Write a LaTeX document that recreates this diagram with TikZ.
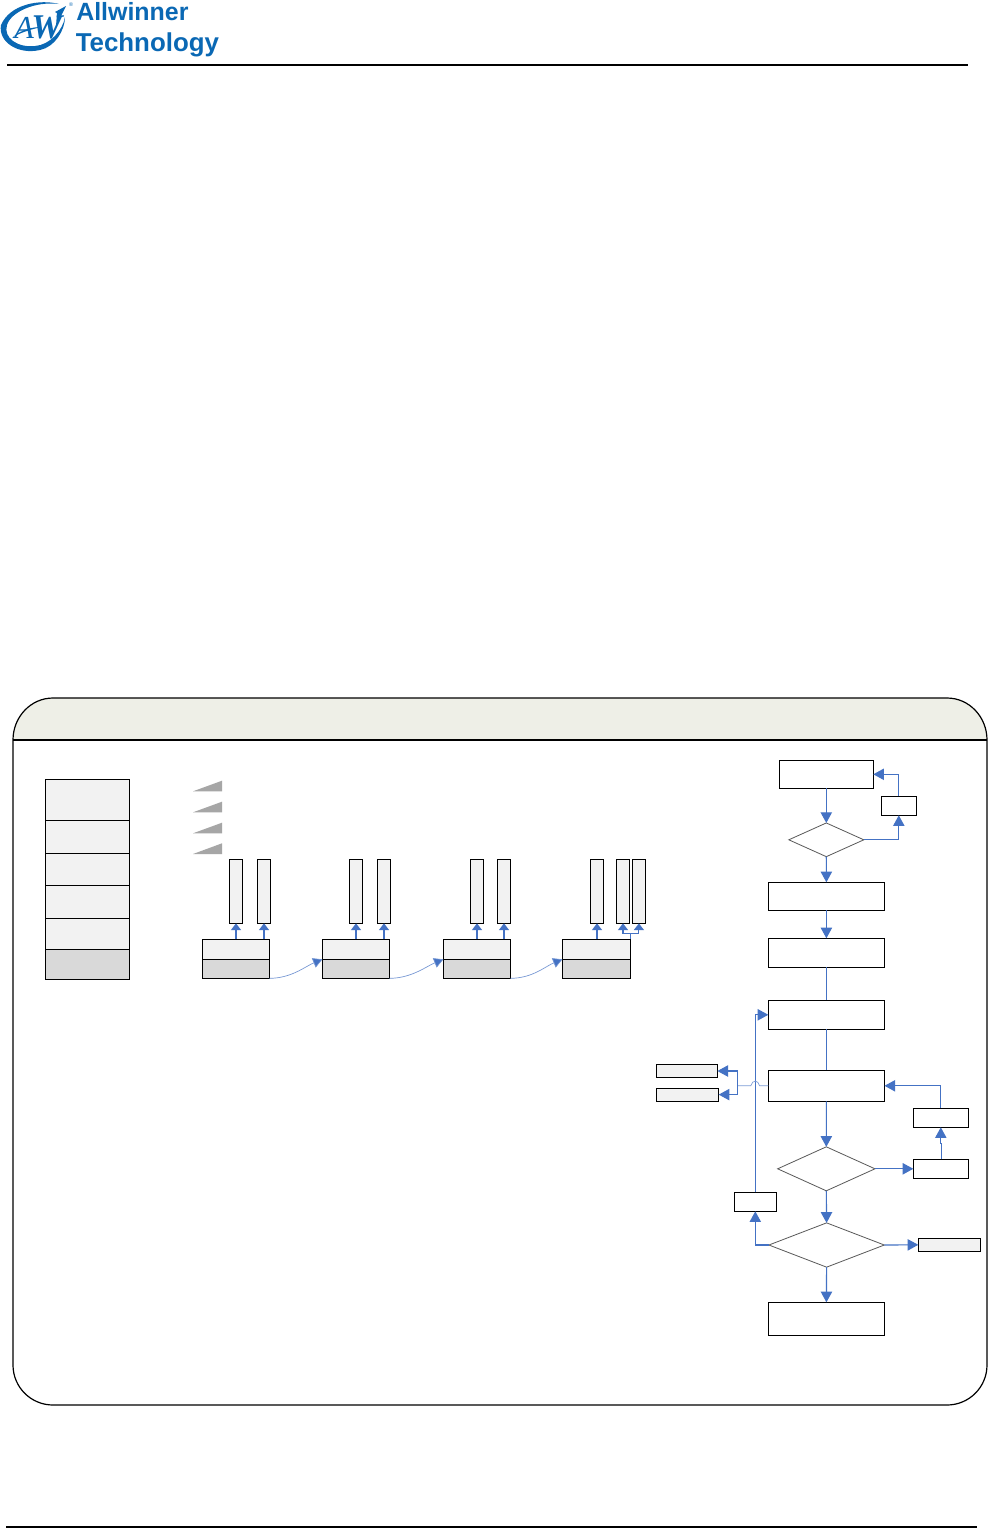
\documentclass[tikz,border=0pt]{standalone}
\usepackage{fontspec}
\setmainfont{Liberation Sans}
\newfontfamily\logoserif{Liberation Serif}
\usetikzlibrary{arrows.meta,shapes.geometric}
\definecolor{flowblue}{HTML}{4472C4}
\definecolor{logoblue}{HTML}{0A68B4}
\definecolor{headfill}{HTML}{EEEFE7}
\definecolor{lightfill}{HTML}{F2F2F2}
\definecolor{darkfill}{HTML}{D9D9D9}
\definecolor{wedgefill}{HTML}{A6A6A6}
\definecolor{diamline}{HTML}{595959}
\tikzset{
  cellbox/.style={draw=black,line width=.85pt,inner sep=0pt,outer sep=0pt,rectangle},
  whitebox/.style={cellbox,fill=white},
  lightbox/.style={cellbox,fill=lightfill},
  darkbox/.style={cellbox,fill=darkfill},
  decide/.style={draw=diamline,line width=.6pt,fill=white,shape=diamond,inner sep=0pt,outer sep=0pt},
  flow/.style={draw=flowblue,line width=.85pt,-{Triangle[length=8pt,width=8.5pt]}},
  flowsmall/.style={draw=flowblue,line width=.85pt,-{Triangle[length=5pt,width=7.5pt]}},
  plainflow/.style={draw=flowblue,line width=.85pt},
  thinflow/.style={draw=flowblue!70,line width=.5pt},
  linkflow/.style={draw=flowblue!75,line width=.5pt,-{Triangle[length=7pt,width=7.5pt,fill=flowblue]}},
  wedge/.style={fill=wedgefill,draw=none},
}
\newcommand{\bx}[6]{%
  \pgfmathsetmacro{\bxcx}{(#3+#5)/2}\pgfmathsetmacro{\bxcy}{(#4+#6)/2}%
  \pgfmathsetmacro{\bxw}{(#5-#3)*0.75}\pgfmathsetmacro{\bxh}{(#6-#4)*0.75}%
  \node[#1,minimum width=\bxw pt,minimum height=\bxh pt] (#2) at (\bxcx,\bxcy) {};}
\newcommand{\dm}[5]{%
  \pgfmathsetmacro{\bxw}{#4*0.75}\pgfmathsetmacro{\bxh}{#5*0.75}\pgfmathsetmacro{\bxa}{#4/#5}%
  \node[decide,aspect=\bxa,minimum width=\bxw pt,minimum height=\bxh pt] (#1) at (#2,#3) {};}
\begin{document}
\begin{tikzpicture}[x=.75pt,y=-.75pt]
\useasboundingbox (0,0) rectangle (988,1528);
\fill[white] (0,0) rectangle (988,1528);
% ---------- logo
\fill[logoblue] (59,4) .. controls (40,-1) and (10,4) .. (1,25)
  .. controls (-2,42) and (18,55) .. (40,50)
  .. controls (55,47) and (65,30) .. (65,17)
  .. controls (63,30) and (50,45) .. (35,46)
  .. controls (18,48) and (3,38) .. (7,25)
  .. controls (11,12) and (35,1) .. (59,4) -- cycle;
\node[anchor=base west,inner sep=0pt,text=logoblue,font=\logoserif\itshape\fontsize{24pt}{24pt}\selectfont] (logoa) at (14,38) {A};
\node[anchor=base west,inner sep=0pt,text=logoblue,font=\logoserif\bfseries\itshape\fontsize{26pt}{26pt}\selectfont] (logow) at (31,38) {W};
\fill[logoblue] (56,26) -- (66,6) -- (55,12) -- (57,13) -- cycle;
\fill[logoblue] (13,37) .. controls (22,29) and (33,27) .. (42,27) .. controls (32,29) and (22,32) .. (13,37) -- cycle;
\node[anchor=center,inner sep=0pt,text=logoblue,font=\fontsize{4pt}{4pt}\selectfont] (logor) at (71,5) {®};
\node[anchor=base west,inner sep=0pt,text=logoblue,font=\bfseries\fontsize{18.7pt}{18.7pt}\selectfont] (logo1) at (76,20.7) {Allwinner};
\node[anchor=base west,inner sep=0pt,text=logoblue,font=\bfseries\fontsize{19.4pt}{19.4pt}\selectfont] (logo2) at (75.5,51.7) {Technology};
\draw[line width=.8pt] (7,65) -- (968,65);
\draw[line width=.8pt] (6,1527) -- (977,1527);
% ---------- container
\fill[headfill] (13,740) arc[start angle=180,end angle=90,x radius=40,y radius=-42] -- (947,698)
   arc[start angle=90,end angle=0,x radius=40,y radius=-42] -- cycle;
\draw[line width=.9pt] (53,698) -- (947,698) arc[start angle=90,end angle=0,x radius=40,y radius=-42]
   -- (987,1365) arc[start angle=0,end angle=-90,x radius=40,y radius=-40]
   -- (53,1405) arc[start angle=-90,end angle=-180,x radius=40,y radius=-40]
   -- (13,740) arc[start angle=180,end angle=90,x radius=40,y radius=-42];
\draw[line width=.9pt] (13,740) -- (987,740);
% ---------- stack
\bx{lightbox}{s1}{45.5}{779.3}{129.5}{820.3}
\bx{lightbox}{s2}{45.5}{820.3}{129.5}{853.3}
\bx{lightbox}{s3}{45.5}{853.3}{129.5}{885.3}
\bx{lightbox}{s4}{45.5}{885.3}{129.5}{918.3}
\bx{lightbox}{s5}{45.5}{918.3}{129.5}{949.3}
\bx{darkbox}{s6}{45.5}{949.3}{129.5}{979.3}
% ---------- wedges
\fill[wedge] (222,780.7) -- (222,791.3) -- (193,791.3) -- cycle;
\fill[wedge] (222,801.7) -- (222,812.3) -- (193,812.3) -- cycle;
\fill[wedge] (222,822.7) -- (222,833.3) -- (193,833.3) -- cycle;
\fill[wedge] (222,843.3) -- (222,854) -- (193,854) -- cycle;
% ---------- bars
\bx{lightbox}{b1}{229.4}{859.3}{242.6}{923.4}
\bx{lightbox}{b2}{257.4}{859.3}{270.6}{923.4}
\bx{lightbox}{b3}{349.4}{859.3}{362.6}{923.4}
\bx{lightbox}{b4}{377.4}{859.3}{390.6}{923.4}
\bx{lightbox}{b5}{470.4}{859.3}{483.6}{923.4}
\bx{lightbox}{b6}{497.4}{859.3}{510.6}{923.4}
\bx{lightbox}{b7}{590.4}{859.3}{603.6}{923.4}
\bx{lightbox}{b8}{616.4}{859.3}{629.6}{923.4}
\bx{lightbox}{b9}{632.4}{859.3}{645.4}{923.4}
% ---------- two-part boxes
\bx{lightbox}{t1}{202.4}{939.3}{269.4}{959.3}
\bx{darkbox}{g1}{202.4}{959.3}{269.4}{978.3}
\bx{lightbox}{t2}{322.4}{939.3}{389.4}{959.3}
\bx{darkbox}{g2}{322.4}{959.3}{389.4}{978.3}
\bx{lightbox}{t3}{443.4}{939.3}{510.4}{959.3}
\bx{darkbox}{g3}{443.4}{959.3}{510.4}{978.3}
\bx{lightbox}{t4}{562.4}{939.3}{630.4}{959.3}
\bx{darkbox}{g4}{562.4}{959.3}{630.4}{978.3}
\draw[flowsmall] (b1.south |- t1.north) -- (b1.south);
\draw[flowsmall] (b2.south |- t1.north) -- (b2.south);
\draw[flowsmall] (b3.south |- t2.north) -- (b3.south);
\draw[flowsmall] (b4.south |- t2.north) -- (b4.south);
\draw[flowsmall] (b5.south |- t3.north) -- (b5.south);
\draw[flowsmall] (b6.south |- t3.north) -- (b6.south);
\draw[flowsmall] (b7.south |- t4.north) -- (b7.south);
\coordinate (fork) at (630.4,933.7);
\draw[plainflow] (t4.north east) -- (fork);
\draw[flowsmall] (fork) -| (b8.south);
\draw[flowsmall] (fork) -| (b9.south);
\draw[linkflow] (g1.south east) .. controls +(22,0) and +(-17,7) .. (t2.south west);
\draw[linkflow] (g2.south east) .. controls +(22,0) and +(-17,7) .. (t3.south west);
\draw[linkflow] (g3.south east) .. controls +(22,0) and +(-17,7) .. (t4.south west);
% ---------- flowchart
\bx{whitebox}{fa}{779.3}{760.3}{873.3}{788.3}
\bx{whitebox}{fs}{881.3}{796.3}{916.3}{815.3}
\dm{d1}{826.3}{839.8}{75}{33.7}
\bx{whitebox}{fb}{768.3}{882.3}{884.5}{910.3}
\bx{whitebox}{fc}{768.3}{938.3}{884.5}{967.3}
\bx{whitebox}{fd}{768.3}{1000.3}{884.5}{1029.3}
\bx{whitebox}{fe}{768.3}{1070.3}{884.5}{1101.3}
\bx{lightbox}{l1}{656.3}{1064.3}{717.4}{1077.3}
\bx{lightbox}{l2}{656.3}{1088.3}{718.7}{1101.3}
\dm{d2}{826.3}{1168.8}{97.3}{44}
\dm{d3}{826.6}{1245}{115.4}{44.3}
\bx{whitebox}{ff}{768.3}{1302.3}{884.5}{1335.3}
\bx{whitebox}{r1}{913.3}{1108.3}{968.3}{1127.3}
\bx{whitebox}{r2}{913.3}{1159.3}{968.3}{1178.3}
\bx{whitebox}{lg}{734.3}{1192.3}{776.3}{1211.3}
\bx{lightbox}{rg}{918.3}{1238.3}{980.7}{1251.3}
\draw[flow] (fa.south) -- (d1.north);
\draw[flow] (d1.south) -- (fb.north);
\draw[flow] (fb.south) -- (fc.north);
\draw[plainflow] (fc.south) -- (fd.north);
\draw[plainflow] (fd.south) -- (fe.north);
\draw[flow] (d1.east) -| (fs.south);
\draw[flow] (fs.north) |- (fa.east);
\draw[flow] (fe.south) -- (d2.north);
\draw[flow] (d2.south) -- (d3.north);
\draw[flow] (d3.south) -- (ff.north);
\draw[flow] (d2.east) -- (r2.west);
\coordinate (jog) at (941.7,1143.3);
\draw[flow] (r2.north -| jog) -- (jog) -- (jog -| r1.south) -- (r1.south);
\draw[flow] (r1.north) |- (fe.east);
\draw[flow] (d3.east) -- (rg.west);
\draw[flow] (d3.west) -| (lg.south);
\draw[flow] (lg.north) |- (fd.west);
\coordinate (brk) at (737.7,1085.8);
\coordinate (brktop) at (737.7,1071);
\coordinate (brkbot) at (737.7,1094.6);
\coordinate (jumpr) at (759.6,1085.8);
\coordinate (jumpl) at (750.8,1085.8);
\draw[thinflow] (fe.west) -- (jumpr) .. controls (758,1079.5) and (752.4,1079.5) .. (jumpl) -- (brk);
\draw[plainflow] (brktop) -- (brkbot);
\draw[flow] (brktop) -- (brktop -| l1.east);
\draw[flow] (brkbot) -- (brkbot -| l2.east);
\end{tikzpicture}
\end{document}
